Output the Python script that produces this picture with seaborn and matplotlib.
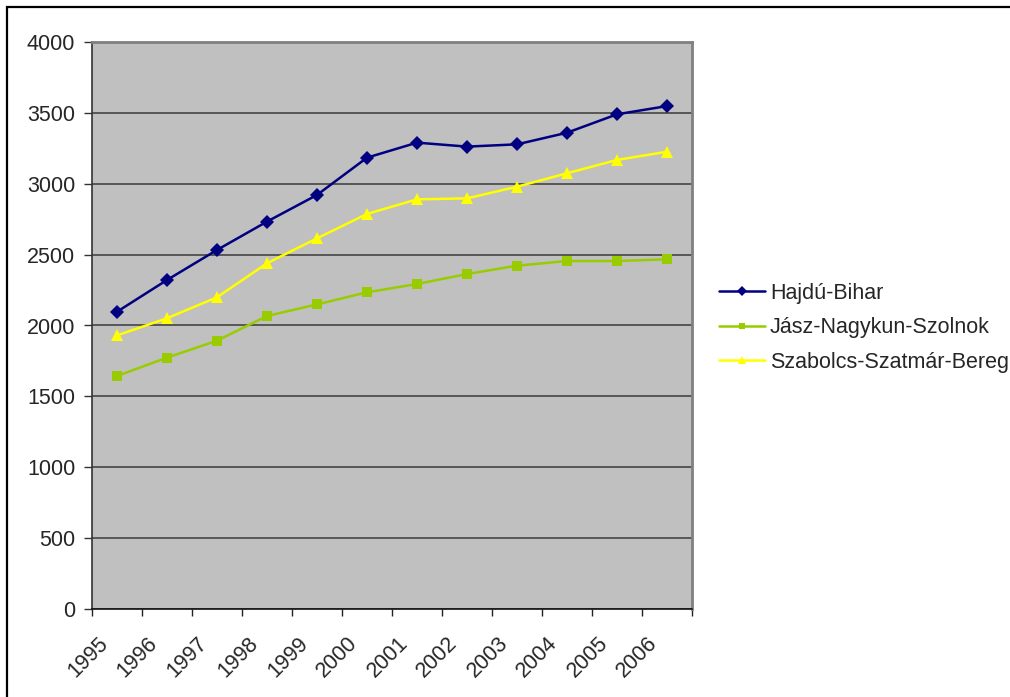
import matplotlib
matplotlib.use("Agg")
import matplotlib.pyplot as plt
import matplotlib.transforms as mtransforms
from matplotlib.patches import Rectangle
import numpy as np
import pandas as pd
import seaborn as sns

# Years shown on the category axis
years = [1995, 1996, 1997, 1998, 1999, 2000, 2001, 2002, 2003, 2004, 2005, 2006]

# County series
hajdu_bihar = [2097, 2321, 2533, 2733, 2921, 3184, 3290, 3262, 3278, 3360, 3490, 3548]
jasz_nagykun_szolnok = [1644, 1773, 1893, 2067, 2149, 2234, 2293, 2363, 2422, 2455, 2455, 2467]
szabolcs_szatmar_bereg = [1930, 2051, 2199, 2439, 2615, 2787, 2890, 2897, 2979, 3074, 3168, 3226]

series_names = ["Hajdú-Bihar", "Jász-Nagykun-Szolnok", "Szabolcs-Szatmár-Bereg"]
series_values = [hajdu_bihar, jasz_nagykun_szolnok, szabolcs_szatmar_bereg]
series_colors = ["#000080", "#99CC00", "#FFFF00"]
series_markers = ["D", "s", "^"]
series_msizes = [7.2, 7.0, 9.0]

y_ticks = [0, 500, 1000, 1500, 2000, 2500, 3000, 3500, 4000]

sns.set_style("white")
plt.rcParams["font.family"] = ["Liberation Sans", "DejaVu Sans"]

W, H = 1010, 697
FS = 15.5
fig = plt.figure(figsize=(W / 100, H / 100), dpi=100)
fig.patch.set_facecolor("white")

ax = fig.add_axes([92 / W, 1 - 609 / H, 600 / W, 567 / H])
ax.set_facecolor("#C0C0C0")

pos = np.arange(len(years))
for name, vals, col, mk, ms in zip(series_names, series_values, series_colors,
                                    series_markers, series_msizes):
    df = pd.DataFrame({"pos": pos, "value": vals})
    sns.lineplot(data=df, x="pos", y="value", ax=ax, color=col, marker=mk,
                 markersize=ms, markeredgewidth=0, linewidth=1.8, label=name,
                 legend=False)

ax.set_xlim(-0.5, len(years) - 0.5)
ax.set_ylim(0, 4000)
ax.set_xlabel("")
ax.set_ylabel("")

# horizontal gridlines
ax.set_yticks(y_ticks)
ax.set_yticklabels([str(v) for v in y_ticks], fontsize=FS)
ax.yaxis.grid(True, color="#3a3a3a", linewidth=1.1)
ax.xaxis.grid(False)
ax.set_axisbelow(True)
ax.tick_params(axis="y", direction="out", length=6, width=1, color="#333333",
               pad=6, left=True)

# category boundaries carry the tick marks, centres carry the labels
ax.set_xticks(np.arange(-0.5, len(years), 1.0))
ax.set_xticklabels([])
ax.tick_params(axis="x", which="major", direction="out", length=5, width=1,
               color="#222222", bottom=True)
ax.set_xticks(pos, minor=True)
ax.set_xticklabels([str(y) for y in years], minor=True, fontsize=FS,
                   rotation=45, ha="right", va="top")
ax.tick_params(axis="x", which="minor", length=0, pad=17)
offset = mtransforms.ScaledTranslation(-5 / 100, 0, fig.dpi_scale_trans)
for lbl in ax.xaxis.get_minorticklabels():
    lbl.set_transform(lbl.get_transform() + offset)

for side in ["top", "right"]:
    ax.spines[side].set_visible(True)
    ax.spines[side].set_color("#808080")
    ax.spines[side].set_linewidth(2.0)
ax.spines["left"].set_color("#333333")
ax.spines["left"].set_linewidth(1.2)
ax.spines["bottom"].set_color("#111111")
ax.spines["bottom"].set_linewidth(1.2)

handles, labels = ax.get_legend_handles_labels()
fig.legend(handles, labels, loc="upper left",
           bbox_to_anchor=(719 / W, 1 - 283 / H), frameon=False, fontsize=FS,
           handlelength=2.15, handletextpad=0.22, labelspacing=0.62,
           markerscale=0.65, borderaxespad=0, borderpad=0)

# chart border
fig.patches.append(Rectangle((7 / W, -0.05), 1.1, 1 - 7 / H + 0.05,
                             transform=fig.transFigure, fill=False,
                             edgecolor="black", linewidth=1.6))

fig.savefig("out.png", dpi=100)
